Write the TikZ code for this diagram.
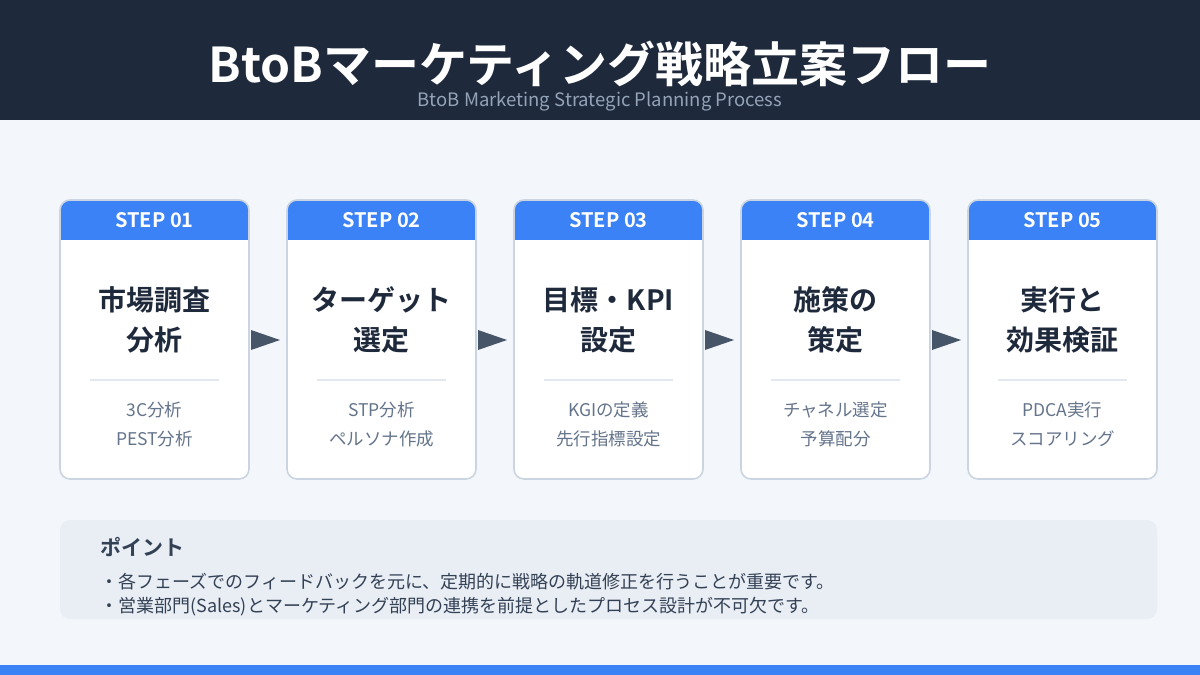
\documentclass[tikz,border=0pt]{standalone}
\usepackage{fontspec}
\setmainfont{Noto Sans CJK JP}[BoldFont={Noto Sans CJK JP Bold}]
\usetikzlibrary{shapes.geometric}
\definecolor{hdr}{HTML}{1E293B}
\definecolor{bgc}{HTML}{F3F6FA}
\definecolor{blu}{HTML}{3B82F6}
\definecolor{brd}{HTML}{CBD5E1}
\definecolor{dvd}{HTML}{E2E8F0}
\definecolor{sub}{HTML}{64748B}
\definecolor{arr}{HTML}{475569}
\definecolor{ptbg}{HTML}{E9EDF4}
\definecolor{pttx}{HTML}{334155}
\definecolor{subt}{HTML}{94A3B8}
\tikzset{
  cardbox/.style={draw=brd, line width=1.6pt, rounded corners=10pt},
  steplbl/.style={text=white, font=\bfseries\fontsize{20}{22}\selectfont, anchor=center},
  cardtitle/.style={text=hdr, font=\bfseries\fontsize{28}{40}\selectfont, align=center, anchor=center},
  cardsub/.style={text=sub, font=\fontsize{17.5}{29}\selectfont, align=center, anchor=center},
  flowarrow/.style={fill=arr, draw=none}
}
\begin{document}
\begin{tikzpicture}[x=1pt,y=-1pt]
\useasboundingbox (0,0) rectangle (1200,675);
\fill[bgc] (0,0) rectangle (1200,675);
\fill[hdr] (0,0) rectangle (1200,120);
\node[text=white, font=\bfseries\fontsize{48}{52}\selectfont] (title) at (600,64) {BtoBマーケティング戦略立案フロー};
\node[text=subt, font=\fontsize{18.5}{20}\selectfont] (subtitle) at (600,101) {BtoB Marketing Strategic Planning Process};
% cards
\foreach \i/\x/\t/\s in {1/60/{市場調査\\分析}/{3C分析\\PEST分析},
                          2/287/{ターゲット\\選定}/{STP分析\\ペルソナ作成},
                          3/514/{目標・KPI\\設定}/{KGIの定義\\先行指標設定},
                          4/741/{施策の\\策定}/{チャネル選定\\予算配分},
                          5/968/{実行と\\効果検証}/{PDCA実行\\スコアリング}}{
  \fill[white, rounded corners=10pt] (\x,200) rectangle ++(189,279);
  \begin{scope}
    \clip[rounded corners=10pt] (\x,200) rectangle ++(189,279);
    \fill[blu] (\x,200) rectangle ++(189,40);
  \end{scope}
  \draw[cardbox] (\x,200) rectangle ++(189,279) coordinate (c\i se);
  \coordinate (c\i nw) at (\x,200);
  \node[steplbl] (s\i) at (\x+94.5,220) {STEP 0\i};
  \node[cardtitle] (t\i) at (\x+94.5,320) {\t};
  \draw[dvd, line width=1.5pt] (\x+30,380) -- (\x+159,380);
  \node[cardsub] (d\i) at (\x+94.5,424) {\s};
}
% arrows between cards
\foreach \a/\b in {1/2,2/3,3/4,4/5}{
  \path (c\a se |- 0,340) ++(2,0) coordinate (as\a);
  \fill[flowarrow] (as\a) ++(0,-10) -- ++(29,10) -- ++(-29,10) -- cycle;
}
% point box
\fill[ptbg, rounded corners=10pt] (60,520) rectangle (1157,619);
\node[anchor=west, text=pttx, font=\bfseries\fontsize{21}{23}\selectfont] (pt) at (97,547) {ポイント};
\node[anchor=west, text=pttx, font=\fontsize{18}{20}\selectfont] (p1) at (97,582) {・各フェーズでのフィードバックを元に、定期的に戦略の軌道修正を行うことが重要です。};
\node[anchor=west, text=pttx, font=\fontsize{18}{20}\selectfont] (p2) at (97,607) {・営業部門(Sales)とマーケティング部門の連携を前提としたプロセス設計が不可欠です。};
\fill[blu] (0,665) rectangle (1200,675);
\end{tikzpicture}
\end{document}
